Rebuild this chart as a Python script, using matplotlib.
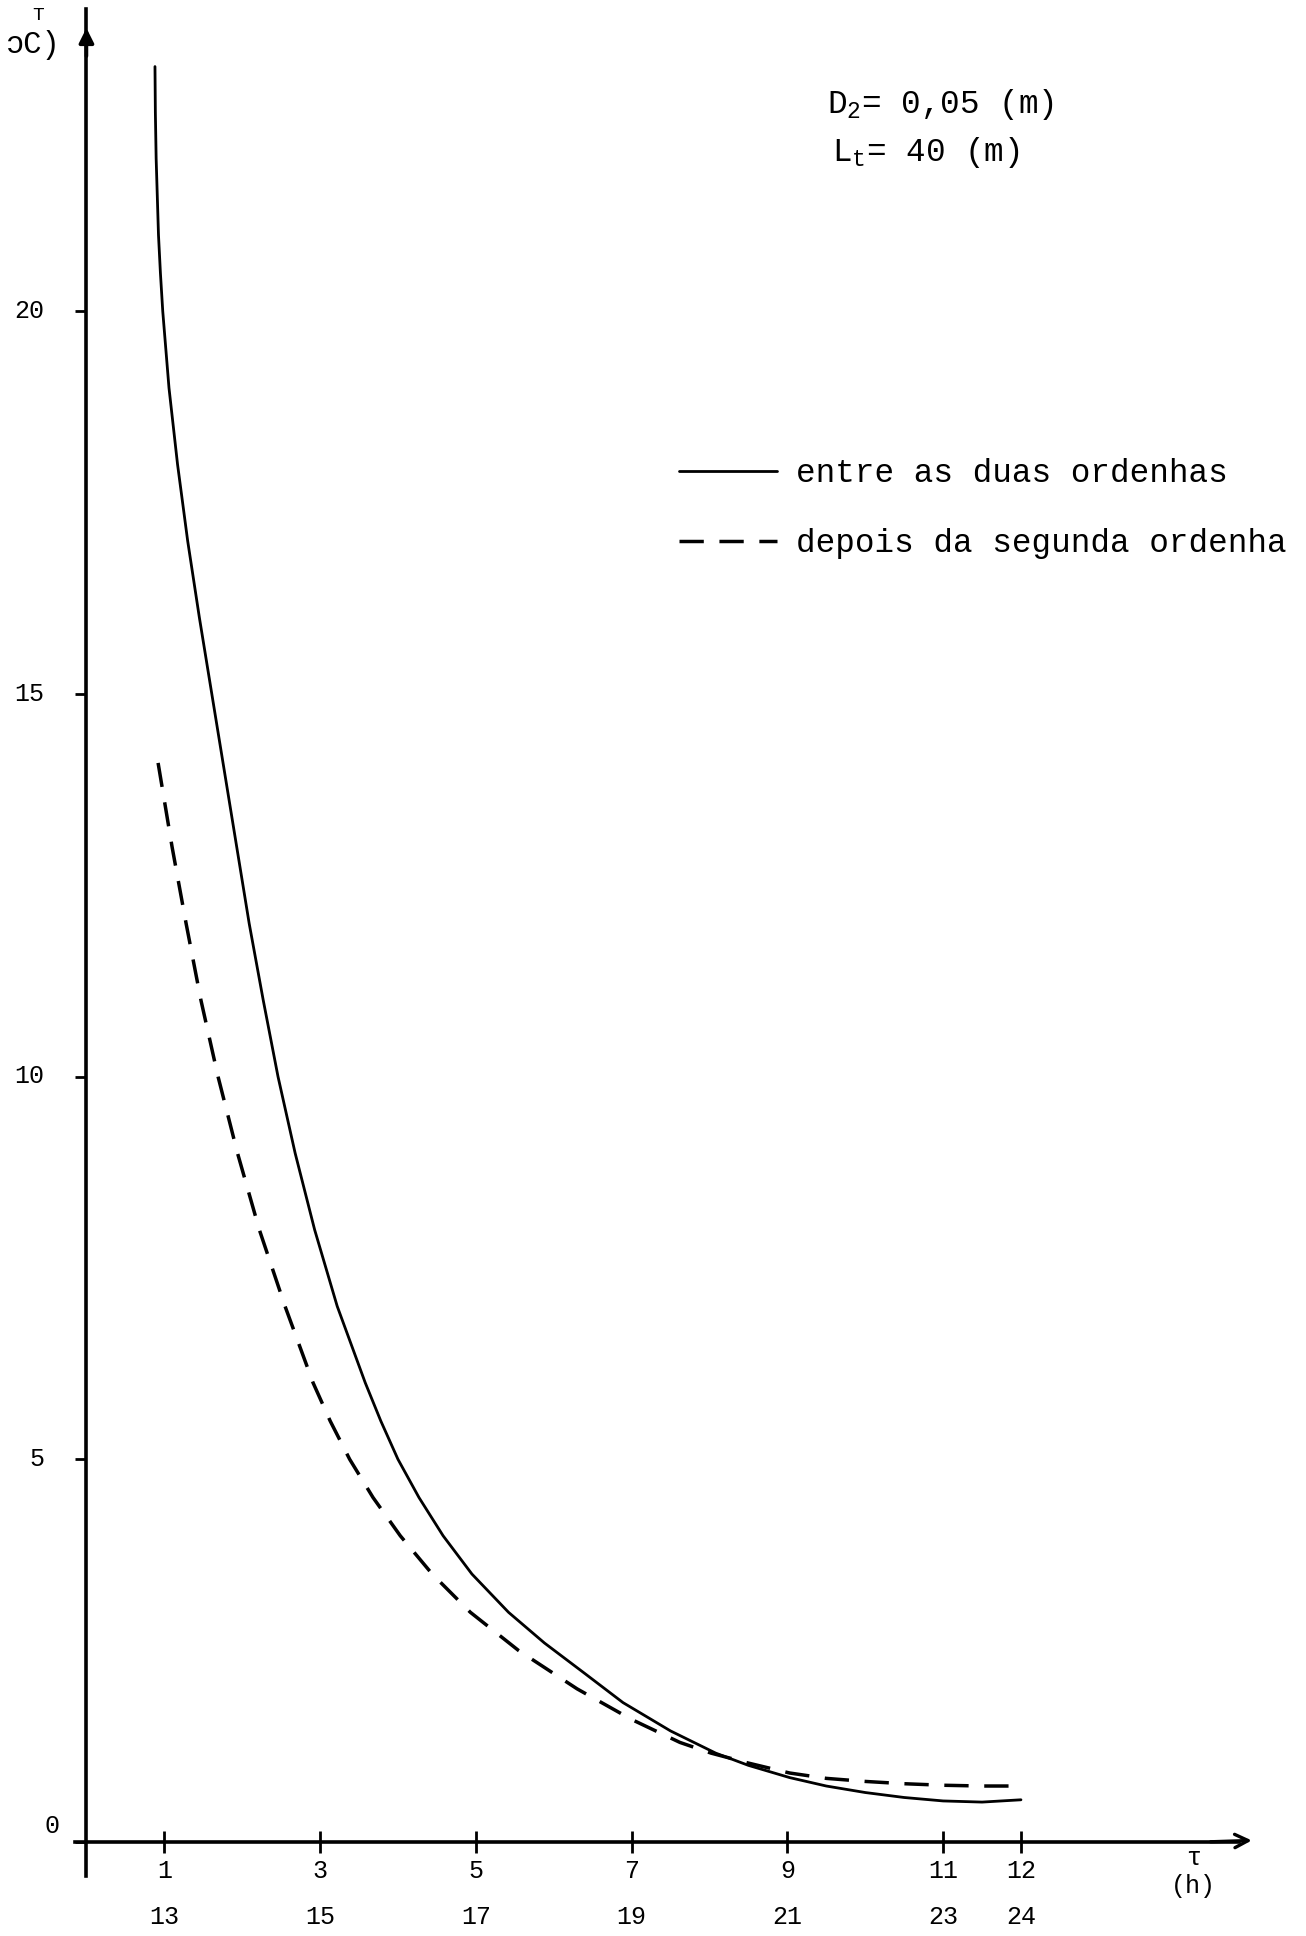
"""
Cooling curves of milk in the tank: temperature vs time.
"""

import matplotlib
matplotlib.use("Agg")
import matplotlib.pyplot as plt
from matplotlib.transforms import ScaledTranslation

plt.rcParams["font.family"] = ["Liberation Mono", "DejaVu Sans"]
plt.rcParams["mathtext.fontset"] = "custom"
plt.rcParams["mathtext.rm"] = "Liberation Mono"
plt.rcParams["mathtext.it"] = "Liberation Mono"

# values
tau_solid = [0.88, 0.885, 0.895, 0.91, 0.925, 0.95, 0.98, 1.06, 1.17, 1.30,
             1.45, 1.61, 1.77, 1.93, 2.09, 2.27, 2.46, 2.68, 2.93, 3.22,
             3.58, 3.78, 4.0, 4.27, 4.58, 4.95, 5.42, 5.88, 6.4, 6.89, 7.5,
             8.08, 8.5, 9.03, 9.5, 10.0, 10.5, 11.0, 11.5, 12.0]
temp_solid = [23.2, 22.6, 22.0, 21.5, 21.0, 20.5, 20.0, 19.0, 18.0, 17.0,
              16.0, 15.0, 14.0, 13.0, 12.0, 11.0, 10.0, 9.0, 8.0, 7.0,
              6.0, 5.5, 5.0, 4.5, 4.0, 3.5, 3.0, 2.6, 2.2, 1.82, 1.45,
              1.16, 1.0, 0.84, 0.73, 0.645, 0.58, 0.535, 0.52, 0.55]

tau_dashed = [0.92, 1.1, 1.28, 1.47, 1.69, 1.94, 2.22, 2.55, 2.91, 3.13,
              3.38, 3.68, 4.03, 4.44, 4.93, 5.55, 6.3, 7.0, 7.62, 8.02,
              8.5, 9.03, 9.5, 10.0, 10.5, 11.0, 11.5, 12.0]
temp_dashed = [14.1, 13.0, 12.0, 11.0, 10.0, 9.0, 8.0, 7.0, 6.0, 5.5,
               5.0, 4.5, 4.0, 3.5, 3.0, 2.5, 2.0, 1.6, 1.3, 1.16,
               1.03, 0.9, 0.83, 0.79, 0.76, 0.74, 0.73, 0.73]

x_ticks = [1, 3, 5, 7, 9, 11, 12]
x_hours = ["13", "15", "17", "19", "21", "23", "24"]
y_ticks = [0, 5, 10, 15, 20]

label_solid = "entre as duas ordenhas"
label_dashed = "depois da segunda ordenha"

fig = plt.figure(figsize=(13.06, 19.36), dpi=100)
ax = fig.add_axes([0, 0, 1, 1])
ax.set_xlim(-1.11, 15.66)
ax.set_ylim(-1.23, 24.07)

# axes drawn like the hand-made ones
for side in ["top", "right"]:
    ax.spines[side].set_visible(False)
ax.spines["left"].set_position(("data", 0))
ax.spines["bottom"].set_position(("data", 0))
ax.spines["left"].set_bounds(-0.45, 23.95)
ax.spines["bottom"].set_bounds(-0.15, 14.8)
ax.spines["left"].set_linewidth(2.6)
ax.spines["bottom"].set_linewidth(2.6)
ax.annotate("", xy=(0, 23.74), xytext=(0, 23.3),
            arrowprops=dict(arrowstyle="-|>", color="black", lw=2.6,
                            mutation_scale=22))
ax.annotate("", xy=(15.0, 0.02), xytext=(14.4, 0.0),
            arrowprops=dict(arrowstyle="->", color="black", lw=2.4,
                            mutation_scale=24))

ax.set_xticks(x_ticks)
ax.set_xticklabels([str(t) for t in x_ticks])
ax.tick_params(axis="x", direction="inout", length=16, width=2,
               labelsize=18, pad=4)
ax.set_yticks(y_ticks)
ax.set_yticklabels([str(t) for t in y_ticks])
ax.tick_params(axis="y", direction="out", length=8, width=2,
               labelsize=18, pad=24)
for lab in ax.get_yticklabels():
    dy = 18 if lab.get_text() == "0" else 3
    dx = 18 if lab.get_text() == "0" else 2
    lab.set_transform(lab.get_transform() +
                      ScaledTranslation(dx / 100, dy / 100, fig.dpi_scale_trans))

# second row of hour labels
for x, h in zip(x_ticks, x_hours):
    ax.text(x, -0.98, h, ha="center", va="center", fontsize=18)

ax.text(14.22, -0.21, "τ", ha="center", va="center", fontsize=18)
ax.text(14.22, -0.58, "(h)", ha="center", va="center", fontsize=18)

# y label with the T written over the C
ax.text(-0.68, 23.48, "ɔC)", ha="center", va="center", fontsize=22)
ax.text(-0.62, 23.87, "T", ha="center", va="center", fontsize=14)

ax.plot(tau_solid, temp_solid, color="black", lw=2.0, label=label_solid,
        solid_capstyle="round", solid_joinstyle="round")
ax.plot(tau_dashed, temp_dashed, color="black", lw=2.5, dashes=(7, 4.5),
        label=label_dashed)

ax.text(827 / 1306, 1 - 105 / 1936, r"D$_2$= 0,05 (m)", transform=ax.transAxes,
        ha="left", va="center", fontsize=23.5)
ax.text(832 / 1306, 1 - 153 / 1936, r"L$_t$= 40 (m)", transform=ax.transAxes,
        ha="left", va="center", fontsize=23.5)

ax.legend(loc="upper left", bbox_to_anchor=(679 / 1306, 1 - 458 / 1936),
          frameon=False, fontsize=23.5, handlelength=3.0, handletextpad=0.6,
          labelspacing=1.2, borderpad=0, borderaxespad=0)

fig.savefig("out.png", dpi=100, facecolor="white")
